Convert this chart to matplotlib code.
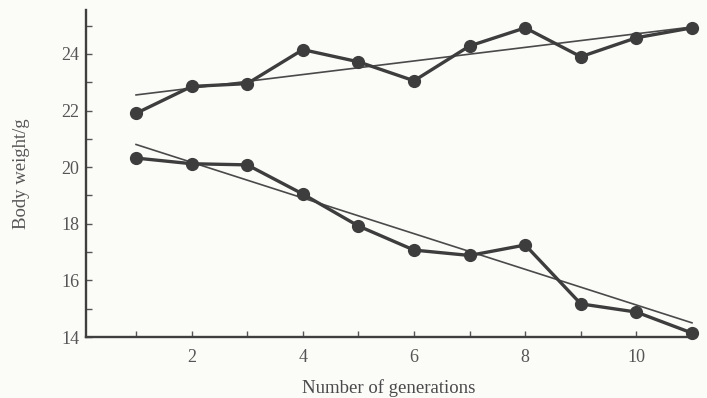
import matplotlib
matplotlib.use("Agg")
import matplotlib.pyplot as plt
from matplotlib.ticker import MultipleLocator

# Body weight (g) over successive generations of selection
generations = [1, 2, 3, 4, 5, 6, 7, 8, 9, 10, 11]
weight_up = [21.9, 22.85, 22.95, 24.15, 23.72, 23.05, 24.28, 24.92, 23.9, 24.57, 24.92]
weight_down = [20.32, 20.12, 20.08, 19.05, 17.92, 17.07, 16.88, 17.25, 15.17, 14.88, 14.14]

# Fitted trend lines, given by their end points
trend_x = [1, 11]
trend_up = [22.55, 24.95]
trend_down = [20.8, 14.5]

x_ticks = [2, 4, 6, 8, 10]
y_ticks = [14, 16, 18, 20, 22, 24]

plt.rcParams["font.family"] = ["Liberation Serif", "DejaVu Serif"]

bg = "#fbfbf8"
ink = "#3d3d3d"
fig = plt.figure(figsize=(7.07, 3.98), dpi=100, facecolor=bg)
ax = fig.add_axes([86 / 707, 1 - 337 / 398, 606 / 707, 327 / 398], facecolor=bg)

for ys in (weight_up, weight_down):
    ax.plot(generations, ys, color=ink, lw=2.4, marker="o", ms=8.5,
            mfc=ink, mec=ink, solid_capstyle="round", zorder=3, clip_on=False)
for ys in (trend_up, trend_down):
    ax.plot(trend_x, ys, color="#4a4a4a", lw=1.2, zorder=2, clip_on=False)

ax.set_xlim(0.1, 11.0)
ax.set_ylim(14, 25.55)
ax.set_xticks(x_ticks)
ax.set_yticks(y_ticks)
ax.xaxis.set_minor_locator(MultipleLocator(1))
ax.yaxis.set_minor_locator(MultipleLocator(1))

for s in ("top", "right"):
    ax.spines[s].set_visible(False)
for s in ("left", "bottom"):
    ax.spines[s].set_color("#3f3f3f")
    ax.spines[s].set_linewidth(1.7)

ax.tick_params(which="both", direction="in", color="#555555", width=1.0,
               labelcolor="#555555", labelsize=13)
ax.tick_params(which="major", length=4)
ax.tick_params(which="minor", length=4)
ax.tick_params(axis="x", pad=9)
ax.tick_params(axis="y", pad=5)

ax.set_xlabel("Number of generations", fontsize=13.5, color="#4a4a4a", labelpad=9)
ax.set_ylabel("Body weight/g", fontsize=13.5, color="#555555", labelpad=22)

fig.savefig("out.png", dpi=100, facecolor=bg)
